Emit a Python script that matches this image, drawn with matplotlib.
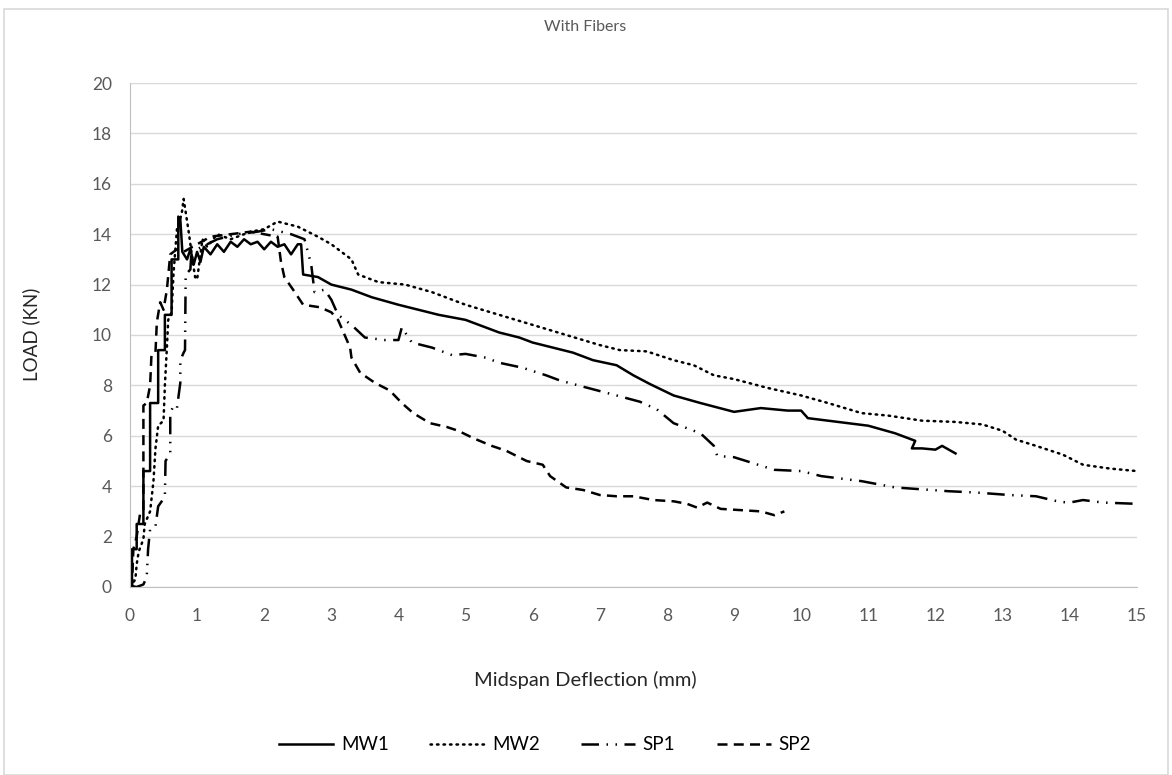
import matplotlib
matplotlib.use("Agg")
import matplotlib.pyplot as plt
from matplotlib.patches import Rectangle
from matplotlib.lines import Line2D

# ------------------------------------------------------------------
# data (deflection in mm, load in kN)
# ------------------------------------------------------------------
mw1_x = [0, 0.03, 0.03, 0.1, 0.1, 0.2, 0.2, 0.3, 0.3, 0.42, 0.42, 0.52, 0.52, 0.62, 0.62, 0.72, 0.72,
         0.75, 0.78, 0.85, 0.9, 0.95, 1.0, 1.05, 1.1, 1.2, 1.3, 1.4, 1.5, 1.6, 1.7, 1.8, 1.9, 2.0,
         2.1, 2.2, 2.3, 2.4, 2.5, 2.55, 2.58, 2.8, 3.0, 3.3, 3.6, 4.0, 4.3, 4.6, 5.0, 5.3, 5.5,
         5.8, 6.0, 6.3, 6.6, 6.9, 7.25, 7.5, 7.75, 8.1, 8.5, 9.0, 9.4, 9.8, 10.0, 10.1, 10.4,
         10.7, 11.0, 11.4, 11.7, 11.65, 11.8, 12.0, 12.1, 12.3]
mw1_y = [0, 0, 1.5, 1.5, 2.5, 2.5, 4.6, 4.6, 7.3, 7.3, 9.4, 9.4, 10.8, 10.8, 13.0, 13.0, 14.7,
         14.6, 13.3, 13.0, 13.4, 12.8, 13.3, 12.9, 13.5, 13.2, 13.6, 13.3, 13.7, 13.5, 13.8, 13.6,
         13.7, 13.4, 13.7, 13.5, 13.6, 13.2, 13.6, 13.6, 12.4, 12.3, 12.0, 11.8, 11.5, 11.2, 11.0,
         10.8, 10.6, 10.3, 10.1, 9.9, 9.7, 9.5, 9.3, 9.0, 8.8, 8.4, 8.05, 7.6, 7.3, 6.95, 7.1, 7.0,
         7.0, 6.7, 6.6, 6.5, 6.4, 6.1, 5.8, 5.5, 5.5, 5.45, 5.6, 5.3]

mw2_x = [0, 0.08, 0.1, 0.13, 0.2, 0.22, 0.3, 0.35, 0.38, 0.42, 0.5, 0.52, 0.55, 0.57, 0.62, 0.65,
         0.7, 0.77, 0.8, 0.84, 0.88, 0.92, 0.97, 1.0, 1.03, 1.08, 1.15, 1.3, 1.5, 1.8, 2.0, 2.2,
         2.5, 2.8, 3.0, 3.3, 3.4, 3.7, 4.1, 4.5, 5.0, 5.5, 6.0, 6.5, 7.0, 7.3, 7.7, 8.1, 8.4, 8.7,
         9.0, 9.5, 10.0, 10.4, 10.9, 11.3, 11.8, 12.3, 12.7, 13.0, 13.2, 13.5, 13.9, 14.2, 14.6,
         15.0]
mw2_y = [0, 0.3, 0.9, 1.4, 1.9, 2.5, 3.0, 4.2, 5.5, 6.4, 6.6, 8.0, 9.5, 10.6, 10.9, 12.5, 14.2,
         14.8, 15.4, 14.7, 14.0, 13.2, 12.3, 12.2, 12.8, 13.8, 13.5, 14.0, 13.8, 14.1, 14.2, 14.5,
         14.3, 13.9, 13.6, 13.0, 12.4, 12.1, 12.0, 11.7, 11.2, 10.8, 10.4, 10.0, 9.6, 9.4, 9.35,
         9.0, 8.8, 8.4, 8.25, 7.9, 7.6, 7.3, 6.9, 6.8, 6.6, 6.55, 6.45, 6.2, 5.85, 5.6, 5.25, 4.85,
         4.7, 4.6]

sp1_x = [0, 0.1, 0.2, 0.25, 0.27, 0.3, 0.38, 0.42, 0.5, 0.52, 0.53, 0.6, 0.6, 0.65, 0.7, 0.75,
         0.75, 0.8, 0.82, 0.83, 0.9, 0.92, 1.0, 1.3, 1.6, 1.9, 2.1, 2.4, 2.6, 2.7, 2.75, 2.9, 3.0,
         3.1, 3.3, 3.5, 3.8, 4.0, 4.05, 4.2, 4.5, 4.8, 5.0, 5.3, 5.5, 5.85, 6.2, 6.4, 6.75, 7.25,
         7.6, 7.85, 8.1, 8.5, 8.7, 8.75, 9.0, 9.3, 9.6, 10.0, 10.3, 10.9, 11.4, 12.2, 12.6, 13.1,
         13.5, 13.85, 14.0, 14.2, 14.5, 15.0]
sp1_y = [0.05, 0.0, 0.1, 0.4, 1.5, 2.3, 2.4, 3.2, 3.5, 3.6, 5.0, 5.3, 6.9, 7.2, 7.1, 8.1, 9.0,
         9.3, 9.4, 12.4, 12.6, 13.5, 13.4, 13.8, 14.0, 14.1, 14.2, 14.0, 13.8, 12.8, 11.7, 11.8,
         11.4, 10.8, 10.4, 9.9, 9.8, 9.8, 10.3, 9.7, 9.5, 9.2, 9.25, 9.1, 8.9, 8.7, 8.4, 8.2, 7.95,
         7.6, 7.35, 7.05, 6.5, 6.1, 5.6, 5.2, 5.15, 4.9, 4.65, 4.6, 4.4, 4.2, 3.95, 3.8, 3.75,
         3.65, 3.6, 3.38, 3.35, 3.45, 3.35, 3.3]

sp2_x = [0, 0.03, 0.05, 0.1, 0.15, 0.2, 0.2, 0.25, 0.3, 0.32, 0.38, 0.4, 0.45, 0.5, 0.55, 0.6,
         0.7, 0.8, 1.0, 1.2, 1.5, 1.8, 2.0, 2.2, 2.25, 2.3, 2.43, 2.58, 2.83, 3.0, 3.1, 3.28, 3.3,
         3.43, 3.65, 3.87, 4.05, 4.22, 4.47, 4.72, 4.89, 5.12, 5.39, 5.61, 5.91, 6.15, 6.26, 6.5,
         6.75, 7.0, 7.25, 7.5, 7.8, 8.1, 8.3, 8.45, 8.6, 8.8, 9.1, 9.4, 9.6, 9.75]
sp2_y = [0, 0, 1.5, 2.0, 2.9, 3.0, 7.2, 7.3, 8.0, 9.2, 9.3, 10.5, 11.3, 11.0, 11.8, 13.2, 13.4,
         13.3, 13.6, 13.9, 14.0, 14.1, 14.0, 13.9, 12.9, 12.3, 11.8, 11.2, 11.1, 10.9, 10.6, 9.5,
         9.1, 8.5, 8.1, 7.8, 7.3, 6.9, 6.5, 6.35, 6.2, 5.9, 5.6, 5.4, 5.0, 4.85, 4.4, 3.95, 3.85,
         3.65, 3.6, 3.6, 3.45, 3.4, 3.3, 3.15, 3.35, 3.1, 3.05, 3.0, 2.85, 3.0]

series_names = ["MW1", "MW2", "SP1", "SP2"]
x_ticks = list(range(0, 16))
y_ticks = list(range(0, 21, 2))

# ------------------------------------------------------------------
# figure
# ------------------------------------------------------------------
plt.rcParams['font.family'] = ['Lato', 'DejaVu Sans']

fig = plt.figure(figsize=(11.72, 7.75), dpi=100)
ax = fig.add_axes([0.1109, 0.2426, 0.859, 0.6503])

styles = {
    "MW1": dict(linestyle="-"),
    "MW2": dict(linestyle=(0, (0.6, 2.0)), dash_capstyle="round"),
    "SP1": dict(linestyle=(0, (7, 3, 0.6, 3, 0.6, 3))),
    "SP2": dict(linestyle=(0, (4, 2.5))),
}
data = {"MW1": (mw1_x, mw1_y), "MW2": (mw2_x, mw2_y),
        "SP1": (sp1_x, sp1_y), "SP2": (sp2_x, sp2_y)}

for name in series_names:
    xs, ys = data[name]
    ax.plot(xs, ys, color="black", linewidth=1.8, label=name, **styles[name])

ax.set_xlim(0, 15)
ax.set_ylim(0, 20)
ax.set_xticks(x_ticks)
ax.set_yticks(y_ticks)
ax.grid(axis="y", color="#d9d9d9", linewidth=1)
ax.set_axisbelow(True)
for side in ["top", "right"]:
    ax.spines[side].set_visible(False)
ax.spines["left"].set_color("#bfbfbf")
ax.spines["bottom"].set_color("#bfbfbf")
ax.tick_params(axis="both", length=0, labelsize=12.5, colors="#595959")
ax.tick_params(axis="x", pad=15)
ax.tick_params(axis="y", pad=13)

fig.text(0.499, 0.965, "With Fibers", ha="center", va="center", fontsize=11.5, color="#595959")
fig.text(0.499, 0.122, "Midspan Deflection (mm)", ha="center", va="center", fontsize=14.5,
         color="#262626")
fig.text(0.027, 0.568, "LOAD (KN)", ha="center", va="center", rotation=90, fontsize=13.5,
         color="#262626")

handles = [Line2D([0], [0], color="black", linewidth=1.8, **styles[n]) for n in series_names]
fig.legend(handles, series_names, loc="center", bbox_to_anchor=(0.465, 0.039), ncol=4,
           frameon=False, fontsize=13.5, handlelength=2.9, columnspacing=2.2, handletextpad=0.4)

fig.patches.append(Rectangle((0.003, 0.0), 0.994, 0.989, transform=fig.transFigure,
                             fill=False, edgecolor="#d9d9d9", linewidth=1.2))

fig.savefig("out.png", dpi=100)
